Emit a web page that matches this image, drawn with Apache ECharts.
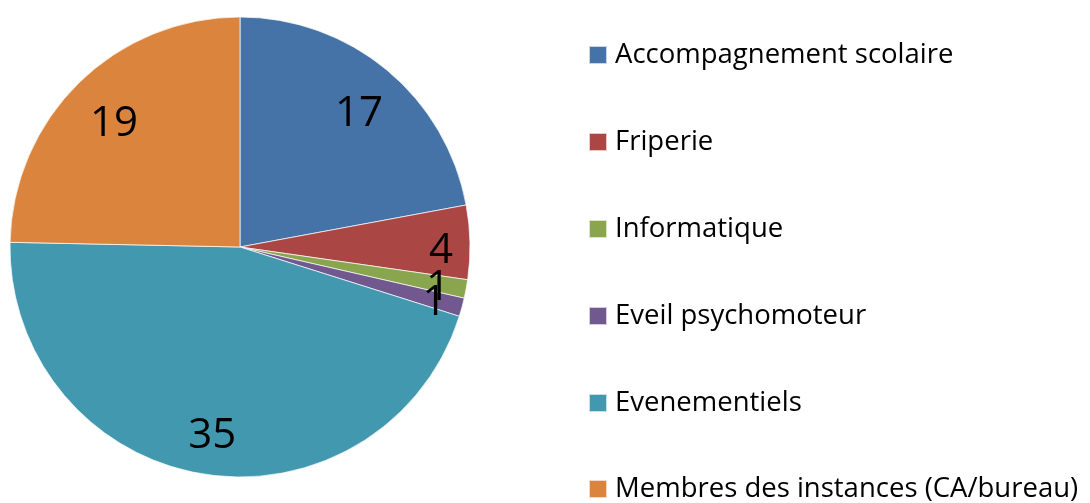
<!DOCTYPE html>
<html><head><meta charset="utf-8">
<script src="https://cdn.jsdelivr.net/npm/echarts@6/dist/echarts.min.js"></script>
<style>html,body{margin:0;padding:0;background:#fff}#c{width:1090px;height:503px}</style>
</head><body><div id="c"></div>
<script>
const categories = ["Accompagnement scolaire","Friperie","Informatique","Eveil psychomoteur","Evenementiels","Membres des instances (CA/bureau)"];
const values = [17,4,1,1,35,19];
const colors = ["#4572A7","#AA4643","#89A54E","#71588F","#4198AF","#DB843D"];

const data = categories.map((n,i)=>({name:n,value:values[i],itemStyle:{color:colors[i]}}));
const chart = echarts.init(document.getElementById('c'));
const font = "Open Sans";
const legendBase = {orient:'vertical',left:588,padding:0,itemWidth:18,itemHeight:18,itemGap:59,icon:'rect',
    textStyle:{fontFamily:font,fontSize:27.5,color:'#000',padding:[0,0,0,3]}};
chart.setOption({
  animation:false,
  color:colors,
  legend:[
    Object.assign({}, legendBase, {top:41, data:categories.slice(0,5)}),
    Object.assign({}, legendBase, {top:475, data:categories.slice(5)})
  ],
  series:[
    {type:'pie',center:[240,247],radius:[0,230],startAngle:90,clockwise:true,
     data:data,label:{show:false},labelLine:{show:false},
     itemStyle:{borderColor:'rgba(255,255,255,0.7)',borderWidth:1}},
    {type:'pie',center:[240,247],radius:[130,230],startAngle:90,clockwise:true,silent:true,
     data:data.map(d=>({name:d.name,value:d.value,itemStyle:{color:'transparent'},
       label:{offset: d.value<=4 ? [18,8] : [2,8]}})),
     label:{show:true,position:'inside',formatter:'{c}',fontFamily:font,fontSize:42,color:'#000'},
     labelLine:{show:false},labelLayout:{hideOverlap:false},
     emphasis:{disabled:true}}
  ]
});
</script></body></html>
